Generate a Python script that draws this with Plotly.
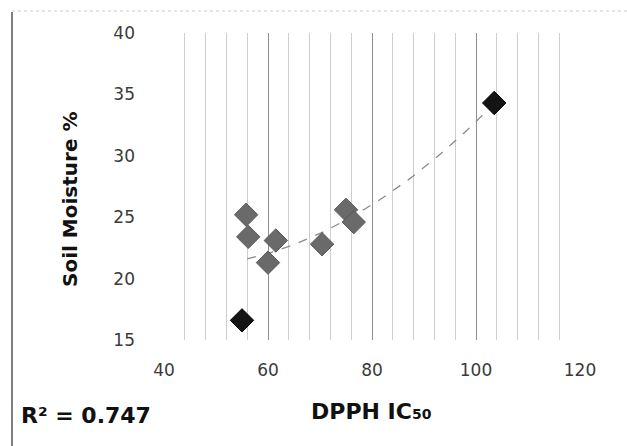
import numpy as np
import plotly.graph_objects as go

# Data
dpph_gray = [55.8, 56.2, 61.5, 60.0, 70.4, 75.0, 76.5]
moist_gray = [25.2, 23.4, 23.1, 21.3, 22.8, 25.6, 24.6]
dpph_black = [55.0, 103.5]
moist_black = [16.6, 34.3]

x_ticks = [40, 60, 80, 100, 120]
y_ticks = [15, 20, 25, 30, 35, 40]

W, H = 627, 446
L, R, T, B = 164, 47, 33, 106
pw, ph = W - L - R, H - T - B

def px(xp):
    return (xp - L) / pw

def py(yp):
    return (H - B - yp) / ph

# quadratic trendline fitted to all points
xa = np.array(dpph_gray + dpph_black)
ya = np.array(moist_gray + moist_black)
coef = np.polyfit(xa, ya, 2)
xt = np.linspace(56, 103, 60)
yt = np.polyval(coef, xt)

fig = go.Figure()
fig.add_trace(go.Scatter(x=xt, y=yt, mode="lines",
                         line=dict(color="#8a8a8a", width=1.3, dash="dash"),
                         hoverinfo="skip"))
fig.add_trace(go.Scatter(x=dpph_gray, y=moist_gray, mode="markers",
                         marker=dict(symbol="diamond", size=18, color="#6a6a6a",
                                     line=dict(color="#5a5a5a", width=1))))
fig.add_trace(go.Scatter(x=dpph_black, y=moist_black, mode="markers",
                         marker=dict(symbol="diamond", size=18, color="#141414",
                                     line=dict(color="#000000", width=1))))

tickfont = dict(family="DejaVu Sans, sans-serif", size=17, color="#3a3a3a")

fig.update_layout(
    width=W, height=H,
    margin=dict(l=L, r=R, t=T, b=B),
    paper_bgcolor="white", plot_bgcolor="white",
    showlegend=False,
    xaxis=dict(range=[40, 120], tickvals=x_ticks, showgrid=True,
               gridcolor="#8f8f8f", gridwidth=1,
               minor=dict(dtick=4, tick0=40, showgrid=True, gridcolor="#cdcdcd", gridwidth=1),
               zeroline=False, showline=False, tickfont=tickfont,
               ticks="", ticklabelstandoff=18),
    yaxis=dict(range=[15, 40], tickvals=y_ticks, showgrid=False,
               zeroline=False, showline=False, tickfont=tickfont,
               ticks="", ticklabelstandoff=28),
    annotations=[
        dict(text="R² = 0.747", xref="paper", yref="paper", x=px(19), y=py(415),
             xanchor="left", yanchor="middle", showarrow=False,
             font=dict(family="DejaVu Sans, sans-serif", size=22, color="#111111", weight="bold")),
        dict(text="DPPH IC<span style='font-size:14px'>50</span>", xref="paper", yref="paper",
             x=px(371), y=py(411),
             xanchor="center", yanchor="middle", showarrow=False,
             font=dict(family="DejaVu Sans, sans-serif", size=22, color="#111111", weight="bold")),
        dict(text="Soil Moisture %", xref="paper", yref="paper", x=px(70), y=py(200),
             xanchor="center", yanchor="middle", showarrow=False, textangle=-90,
             font=dict(family="DejaVu Sans, sans-serif", size=20, color="#111111", weight="bold")),
    ],
    shapes=[
        dict(type="line", xref="paper", yref="paper", x0=px(12), x1=px(12), y0=py(12), y1=py(446),
             line=dict(color="#555555", width=1.5)),
        dict(type="line", xref="paper", yref="paper", x0=px(12), x1=px(627), y0=py(11), y1=py(11),
             line=dict(color="#cccccc", width=1, dash="dot")),
    ],
)

fig.write_html("out.html")
